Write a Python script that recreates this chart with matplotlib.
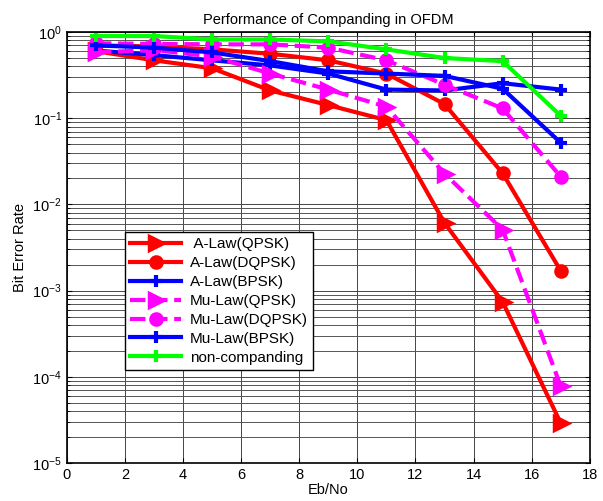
import numpy as np
import matplotlib
matplotlib.use('Agg')
import matplotlib.pyplot as plt

plt.rcParams['font.family'] = ['Liberation Sans', 'DejaVu Sans']
plt.rcParams['mathtext.default'] = 'regular'

# Eb/No points and BER values
ebno = [1, 3, 5, 7, 9, 11, 13, 15, 17]
alaw_qpsk = [0.60, 0.47, 0.38, 0.21, 0.142, 0.095, 0.0061, 7.4e-4, 2.9e-5]
alaw_dqpsk = [0.70, 0.68, 0.63, 0.56, 0.47, 0.33, 0.146, 0.023, 1.7e-3]
alaw_bpsk = [0.61, 0.54, 0.47, 0.41, 0.33, 0.215, 0.21, 0.255, 0.215]
mulaw_qpsk = [0.58, 0.62, 0.52, 0.33, 0.215, 0.136, 0.0227, 0.0051, 7.8e-5]
mulaw_dqpsk = [0.74, 0.73, 0.72, 0.72, 0.66, 0.47, 0.245, 0.13, 0.021]
mulaw_bpsk = [0.70, 0.66, 0.58, 0.46, 0.35, 0.33, 0.31, 0.22, 0.052]
non_comp = [0.90, 0.90, 0.82, 0.82, 0.78, 0.63, 0.50, 0.46, 0.107]

fig = plt.figure(figsize=(6.03, 5.01), dpi=100)
ax = fig.add_axes([0.111, 0.076, 0.867, 0.860])

lw = 3
tri = dict(marker='>', ms=10, mew=2.5)
circ = dict(marker='o', ms=8, mew=2.5)
plus = dict(marker='+', ms=8, mew=3)
ax.semilogy(ebno, alaw_qpsk, '-', color='red', lw=lw, label=' A-Law(QPSK)', **tri)
ax.semilogy(ebno, alaw_dqpsk, '-', color='red', lw=lw, label='A-Law(DQPSK)', **circ)
ax.semilogy(ebno, alaw_bpsk, '-', color='blue', lw=lw, label='A-Law(BPSK)', **plus)
ax.semilogy(ebno, mulaw_qpsk, '--', color='magenta', lw=lw, label='Mu-Law(QPSK)', **tri)
ax.semilogy(ebno, mulaw_dqpsk, '--', color='magenta', lw=lw, label='Mu-Law(DQPSK)', **circ)
ax.semilogy(ebno, mulaw_bpsk, '-', color='blue', lw=lw, label='Mu-Law(BPSK)', **plus)
ax.semilogy(ebno, non_comp, '-', color='#00ff00', lw=lw, label='non-companding', **plus)

ax.set_xlim(0, 18)
ax.set_ylim(1e-5, 1)
ax.set_xticks(np.arange(0, 19, 2))
ax.grid(True, which='major', color='#444444', lw=0.7)
ax.grid(True, which='minor', axis='y', color='#555555', lw=0.7)
ax.tick_params(which='both', direction='in', top=True, right=True, labelsize=10.5)
for s in ax.spines.values():
    s.set_linewidth(1.2)

ax.set_title('Performance of Companding in OFDM', fontsize=10.5)
ax.set_xlabel('Eb/No', fontsize=10.5, labelpad=1)
ax.set_ylabel('Bit Error Rate', fontsize=10.5)

leg = ax.legend(loc='upper left', bbox_to_anchor=(0.111, 0.536), borderaxespad=0,
                fontsize=11, fancybox=False, framealpha=1, edgecolor='black',
                handlelength=3.3, labelspacing=0.32, borderpad=0.35, handletextpad=0.6)
leg.get_frame().set_linewidth(1.0)

fig.savefig('out.png', dpi=100)
